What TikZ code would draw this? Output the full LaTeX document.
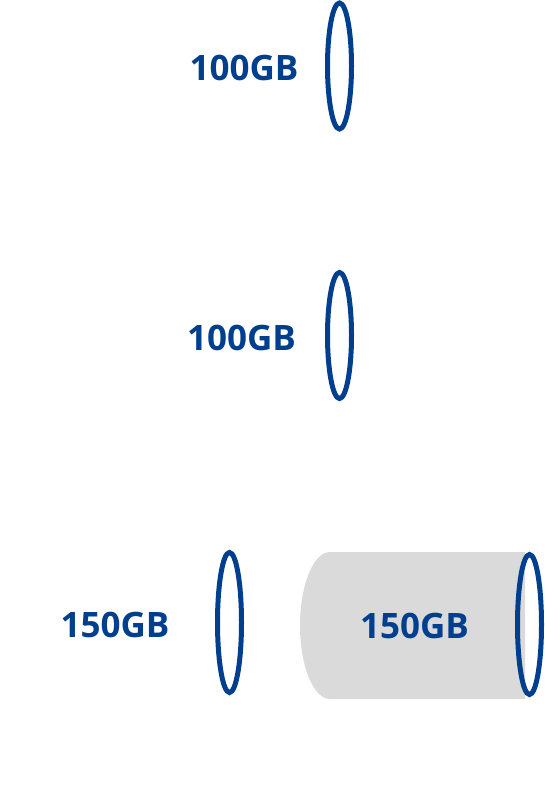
\documentclass[tikz,border=0pt]{standalone}
\usepackage{fontspec}
\setmainfont{Open Sans}
\usepackage{tikz}
\usetikzlibrary{shapes.geometric}
\definecolor{diskblue}{RGB}{0,63,142}
\definecolor{diskgray}{RGB}{218,218,218}
\begin{document}
\begin{tikzpicture}[x=1pt,y=-1pt,
 ring/.style={draw=diskblue,ellipse,line width=5pt,inner sep=0pt,minimum width=24pt},
 size/.style={text=diskblue,font=\fontsize{35}{40}\selectfont\bfseries,inner sep=0pt}]
\useasboundingbox (0,0) rectangle (545,792);
\node[size] (t1) at (244,68) {100GB};
\node[ring,minimum height=126pt] (r1) at (339.5,66) {};
\node[size] (t2) at (241.5,337.5) {100GB};
\node[ring,minimum height=126pt] (r2) at (339.5,335.5) {};
\node[size] (t3) at (115,625) {150GB};
\node[ring,minimum height=140pt] (r3) at (229.5,622.5) {};
% filled volume
\fill[diskgray] (525,552) -- (330,552) arc[start angle=270,end angle=90,x radius=30,y radius=73.5] -- (525,699) -- cycle;
\node[size] (t4) at (414.5,626) {150GB};
\node[ring,minimum height=140pt] (r4) at (529.5,624.5) {};
\end{tikzpicture}
\end{document}
